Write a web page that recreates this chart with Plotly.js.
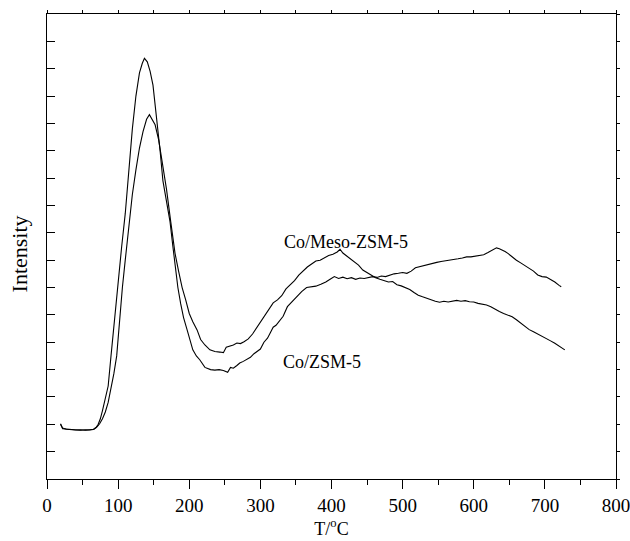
<!DOCTYPE html>
<html>
<head>
<meta charset="utf-8">
<script src="https://cdn.plot.ly/plotly-3.0.1.min.js"></script>
<style>html,body{margin:0;padding:0;background:#fff;}#chart{width:630px;height:541px;}</style>
</head>
<body>
<div id="chart"></div>
<script>
// Co/Meso-ZSM-5 (lower first peak, maximum near 410 °C)
const tempMeso = [19,22,27,33,40,47,54,60,66,70,74,78,82,86,90,94,98,102,106,110,115,120,125,130,135,140,144,148,152,157,162,168,174,180,185,190,195,200,205,211,216,222,229,236,243,248,252,257,262,267,272,277,283,289,294,300,306,312,318,324,330,336,342,348,354,360,366,372,378,384,390,396,402,408,412,416,420,426,432,438,444,450,456,462,468,474,480,486,492,498,504,510,516,522,528,534,540,546,552,558,564,570,576,582,588,594,600,606,612,618,624,630,636,642,648,654,660,666,672,678,684,690,696,702,708,714,720,728];
const intMeso = [2.02,1.86,1.82,1.80,1.79,1.80,1.78,1.80,1.82,1.90,2.02,2.2,2.45,2.8,3.3,3.85,4.5,5.8,7.0,8.0,9.3,10.4,11.3,12.1,12.7,13.15,13.32,13.15,12.95,12.4,11.65,10.6,9.4,8.25,7.6,7.0,6.55,6.05,5.75,5.45,5.1,4.9,4.72,4.66,4.64,4.62,4.82,4.86,4.9,4.97,4.95,5.02,5.12,5.3,5.5,5.7,5.95,6.2,6.44,6.55,6.7,6.95,7.1,7.25,7.45,7.6,7.75,7.86,7.97,8.0,8.1,8.17,8.22,8.3,8.4,8.26,8.18,8.05,7.92,7.82,7.64,7.55,7.43,7.36,7.3,7.24,7.2,7.22,7.1,7.06,7.0,6.93,6.82,6.72,6.66,6.6,6.55,6.5,6.46,6.5,6.47,6.51,6.53,6.5,6.52,6.48,6.47,6.42,6.4,6.36,6.3,6.2,6.12,6.05,6.0,5.93,5.82,5.7,5.58,5.46,5.38,5.3,5.24,5.16,5.05,4.96,4.85,4.72];

// Co/ZSM-5 (tall first peak, maximum near 635 °C)
const tempZsm = [19,22,27,33,40,47,54,60,65,69,72,75,78,82,86,90,95,100,105,110,115,120,125,130,134,137,141,145,149,154,159,163,168,173,177,180,184,188,192,197,201,205,210,215,222,230,236,242,248,254,258,262,267,271,276,281,286,291,296,300,305,310,314,318,322,326,332,338,345,352,358,365,372,378,385,392,398,404,410,416,422,428,434,440,446,452,458,464,470,476,482,488,494,500,506,512,518,524,530,536,542,548,554,560,566,572,578,584,590,596,602,608,614,620,626,632,636,640,644,648,654,660,666,672,678,684,690,696,702,708,714,720,723];
const intZsm = [2.0,1.84,1.83,1.81,1.80,1.78,1.80,1.79,1.81,1.88,2.0,2.2,2.5,2.9,3.4,4.5,5.9,7.3,8.5,9.7,11.3,12.8,14.0,14.85,15.2,15.38,15.25,14.9,14.4,13.3,12.0,10.9,10.1,9.4,8.5,7.75,7.0,6.4,5.9,5.45,5.05,4.72,4.5,4.35,4.08,4.0,3.98,4.0,3.97,3.9,4.08,4.05,4.15,4.24,4.3,4.36,4.45,4.58,4.68,4.75,5.0,5.15,5.35,5.55,5.62,5.75,5.95,6.3,6.5,6.7,6.85,7.0,7.02,7.05,7.12,7.2,7.3,7.4,7.33,7.38,7.32,7.36,7.3,7.35,7.33,7.36,7.4,7.37,7.42,7.4,7.46,7.5,7.52,7.55,7.52,7.6,7.72,7.76,7.8,7.85,7.9,7.92,7.95,7.97,8.0,8.02,8.05,8.08,8.12,8.12,8.15,8.17,8.2,8.28,8.35,8.45,8.42,8.38,8.32,8.25,8.12,8.0,7.9,7.8,7.7,7.6,7.46,7.4,7.38,7.3,7.2,7.08,7.03];

const seriesNames = ["Co/Meso-ZSM-5", "Co/ZSM-5"];
const xTickVals = [0,100,200,300,400,500,600,700,800];
const xTickText = ["0","100","200","300","400","500","600","700","800"];
const yTitle = "Intensity";
const xTitle = "T/<sup>o</sup>C";

const serif = "Liberation Serif, Times New Roman, serif";

const traces = [
  {x: tempMeso, y: intMeso, type: "scatter", mode: "lines", name: seriesNames[0],
   line: {color: "#000", width: 1.1}, xaxis: "x", yaxis: "y"},
  {x: tempZsm, y: intZsm, type: "scatter", mode: "lines", name: seriesNames[1],
   line: {color: "#000", width: 1.1}, xaxis: "x", yaxis: "y"},
  // invisible helper trace that activates the mirrored tick axes (top and right)
  {x: [0], y: [0], xaxis: "x2", yaxis: "y2", mode: "markers", marker: {opacity: 0}, hoverinfo: "skip", showlegend: false}
];

const layout = {
  width: 630, height: 541,
  margin: {l: 47, r: 14, t: 14, b: 62},
  paper_bgcolor: "#fff", plot_bgcolor: "#fff",
  showlegend: false,
  font: {family: serif, size: 18, color: "#000"},
  xaxis: {
    range: [0, 800], tickvals: xTickVals, ticktext: xTickText,
    ticks: "outside", ticklen: 9, tickwidth: 1, tickcolor: "#000",
    ticklabeloverflow: "allow",
    minor: {dtick: 50, tick0: 0, ticks: "outside", ticklen: 5, tickwidth: 1, tickcolor: "#000", showgrid: false},
    showline: true, linecolor: "#000", linewidth: 1.3, mirror: true,
    showgrid: false, zeroline: false,
    tickfont: {family: serif, size: 19, color: "#000"},
    title: {text: xTitle, font: {family: serif, size: 18, color: "#000"}, standoff: 3}
  },
  xaxis2: {
    overlaying: "x", side: "top", range: [0, 800], dtick: 50, tick0: 0,
    ticks: "outside", ticklen: 3, tickwidth: 1, tickcolor: "#000",
    showticklabels: false, showline: false, showgrid: false, zeroline: false
  },
  yaxis: {
    range: [0, 17], dtick: 1, tick0: 0,
    ticks: "inside", ticklen: 8, tickwidth: 1, tickcolor: "#000",
    showticklabels: false,
    showline: true, linecolor: "#000", linewidth: 1.3, mirror: true,
    showgrid: false, zeroline: false
  },
  yaxis2: {
    overlaying: "y", side: "right", range: [0, 17], dtick: 1, tick0: 0,
    ticks: "outside", ticklen: 3, tickwidth: 1, tickcolor: "#000",
    showticklabels: false, showline: false, showgrid: false, zeroline: false
  },
  annotations: [
    {x: 421, y: 8.67, xref: "x", yref: "y", text: seriesNames[0], showarrow: false,
     font: {family: serif, size: 18, color: "#000"}},
    {x: 387, y: 4.28, xref: "x", yref: "y", text: seriesNames[1], showarrow: false,
     font: {family: serif, size: 18, color: "#000"}},
    {x: -0.0475, y: 0.485, xref: "paper", yref: "paper", text: yTitle, showarrow: false,
     textangle: -90, xanchor: "center", yanchor: "middle",
     font: {family: serif, size: 22, color: "#000"}}
  ]
};

Plotly.newPlot("chart", traces, layout, {staticPlot: true, displayModeBar: false});
</script>
</body>
</html>
